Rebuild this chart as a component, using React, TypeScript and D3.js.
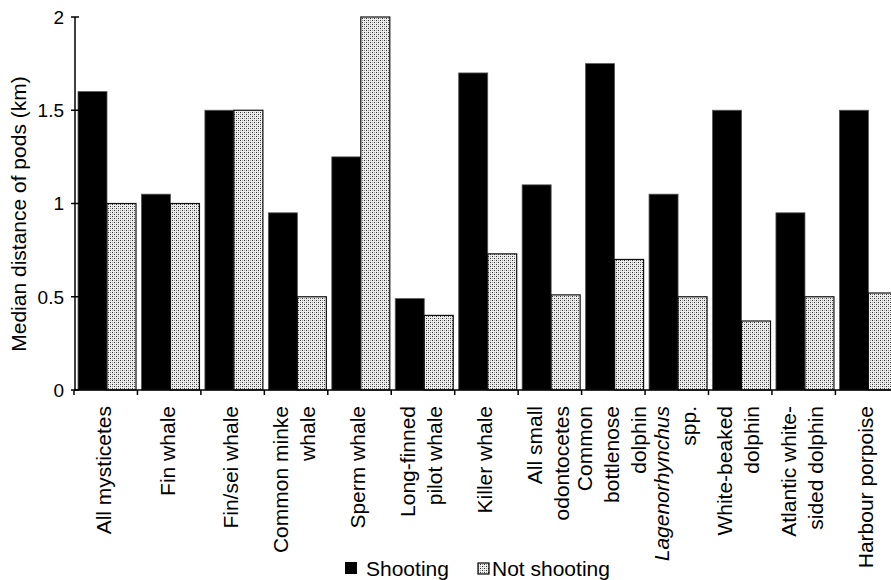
import { useEffect, useRef } from "react";
import * as d3 from "d3";

// category labels, one array entry per printed line; italic lines marked with "_"
const labels: string[][] = [
  ["All mysticetes"],
  ["Fin whale"],
  ["Fin/sei whale"],
  ["Common minke", "whale"],
  ["Sperm whale"],
  ["Long-finned", "pilot whale"],
  ["Killer whale"],
  ["All small", "odontocetes"],
  ["Common", "bottlenose", "dolphin"],
  ["_Lagenorhynchus", "spp."],
  ["White-beaked", "dolphin"],
  ["Atlantic white-", "sided dolphin"],
  ["Harbour porpoise"],
];
const shooting = [1.6, 1.05, 1.5, 0.95, 1.25, 0.49, 1.7, 1.1, 1.75, 1.05, 1.5, 0.95, 1.5];
const notShooting = [1.0, 1.0, 1.5, 0.5, 2.0, 0.4, 0.73, 0.51, 0.7, 0.5, 0.37, 0.5, 0.52];
const yTicks = [0, 0.5, 1, 1.5, 2];
const seriesNames = ["Shooting", "Not shooting"];

export default function App() {
  const ref = useRef<SVGSVGElement>(null);

  useEffect(() => {
    const width = 891;
    const height = 580;
    const font = "Liberation Sans, Arial, sans-serif";

    const svg = d3.select(ref.current)
      .attr("width", width)
      .attr("height", height)
      .style("position", "absolute")
      .style("left", 0)
      .style("top", 0);

    svg.selectAll("*").remove();

    // dotted fill
    const defs = svg.append("defs");
    const pat = defs.append("pattern")
      .attr("id", "dots")
      .attr("patternUnits", "userSpaceOnUse")
      .attr("width", 4)
      .attr("height", 4);
    pat.append("rect").attr("width", 4).attr("height", 4).attr("fill", "#eeeeee");
    pat.append("rect").attr("x", 0).attr("y", 0).attr("width", 1).attr("height", 1).attr("fill", "#333");
    pat.append("rect").attr("x", 2).attr("y", 2).attr("width", 1).attr("height", 1).attr("fill", "#333");
    pat.append("rect").attr("x", 2).attr("y", 0).attr("width", 1).attr("height", 1).attr("fill", "#999");
    pat.append("rect").attr("x", 0).attr("y", 2).attr("width", 1).attr("height", 1).attr("fill", "#999");

    const idx = labels.map((_, i) => i);

    const x = d3.scaleBand<number>()
      .domain(idx)
      .range([74, 74 + 13 * 63.45]);

    const x1 = d3.scaleBand<string>()
      .domain(seriesNames)
      .range([4, 62]);

    const y = d3.scaleLinear()
      .domain([0, 2])
      .range([390, 17]);

    // bars
    const g = svg.append("g");
    idx.forEach(i => {
      const bx = x(i)!;
      g.append("rect")
        .attr("x", bx + x1("Shooting")!)
        .attr("y", y(shooting[i]))
        .attr("width", x1.bandwidth())
        .attr("height", y(0) - y(shooting[i]))
        .attr("fill", "#000")
        .attr("stroke", "#555")
        .attr("stroke-width", 0.8);
      g.append("rect")
        .attr("x", bx + x1("Not shooting")!)
        .attr("y", y(notShooting[i]))
        .attr("width", x1.bandwidth())
        .attr("height", y(0) - y(notShooting[i]))
        .attr("fill", "url(#dots)")
        .attr("stroke", "#111")
        .attr("stroke-width", 1.2);
    });

    // y axis
    const yAxis = svg.append("g");
    yAxis.append("line")
      .attr("x1", 75).attr("x2", 75)
      .attr("y1", y(2)).attr("y2", y(0))
      .attr("stroke", "#000").attr("stroke-width", 1.5);
    yTicks.forEach(t => {
      yAxis.append("line")
        .attr("x1", 71).attr("x2", 79)
        .attr("y1", y(t)).attr("y2", y(t))
        .attr("stroke", "#000").attr("stroke-width", 1.5);
      yAxis.append("text")
        .attr("x", 64)
        .attr("y", y(t))
        .attr("dy", "0.36em")
        .attr("text-anchor", "end")
        .style("font-family", font)
        .style("font-size", "19px")
        .text(String(t));
    });

    svg.append("text")
      .attr("transform", `translate(26,214) rotate(-90)`)
      .attr("text-anchor", "middle")
      .style("font-family", font)
      .style("font-size", "21px")
      .text("Median distance of pods (km)");

    // x axis
    svg.append("line")
      .attr("x1", 74).attr("x2", width)
      .attr("y1", y(0)).attr("y2", y(0))
      .attr("stroke", "#000").attr("stroke-width", 1.5);
    idx.forEach(i => {
      const tx = x(i)!;
      svg.append("line")
        .attr("x1", tx).attr("x2", tx)
        .attr("y1", y(0)).attr("y2", y(0) + 5)
        .attr("stroke", "#000").attr("stroke-width", 1.5);
    });

    // category labels
    const step = 27;
    idx.forEach(i => {
      const lines = labels[i];
      const cx = x(i)! + x.bandwidth() / 2 - 2;
      lines.forEach((ln, j) => {
        const lx = cx + (j - (lines.length - 1) / 2) * step;
        const italic = ln.startsWith("_");
        svg.append("text")
          .attr("transform", `translate(${lx},406) rotate(-90)`)
          .attr("text-anchor", "end")
          .attr("dy", "0.36em")
          .style("font-family", font)
          .style("font-size", "21px")
          .style("font-style", italic ? "italic" : "normal")
          .text(italic ? ln.slice(1) : ln);
      });
    });

    // legend
    const leg = svg.append("g");
    leg.append("rect")
      .attr("x", 345).attr("y", 562).attr("width", 12).attr("height", 12)
      .attr("fill", "#000");
    leg.append("text")
      .attr("x", 366).attr("y", 576)
      .style("font-family", font).style("font-size", "21px")
      .text(seriesNames[0]);
    leg.append("rect")
      .attr("x", 478).attr("y", 563).attr("width", 11).attr("height", 11)
      .attr("fill", "url(#dots)").attr("stroke", "#000").attr("stroke-width", 1.2);
    leg.append("text")
      .attr("x", 492).attr("y", 576)
      .style("font-family", font).style("font-size", "21px")
      .text(seriesNames[1]);
  }, []);

  return <svg ref={ref}></svg>;
}
